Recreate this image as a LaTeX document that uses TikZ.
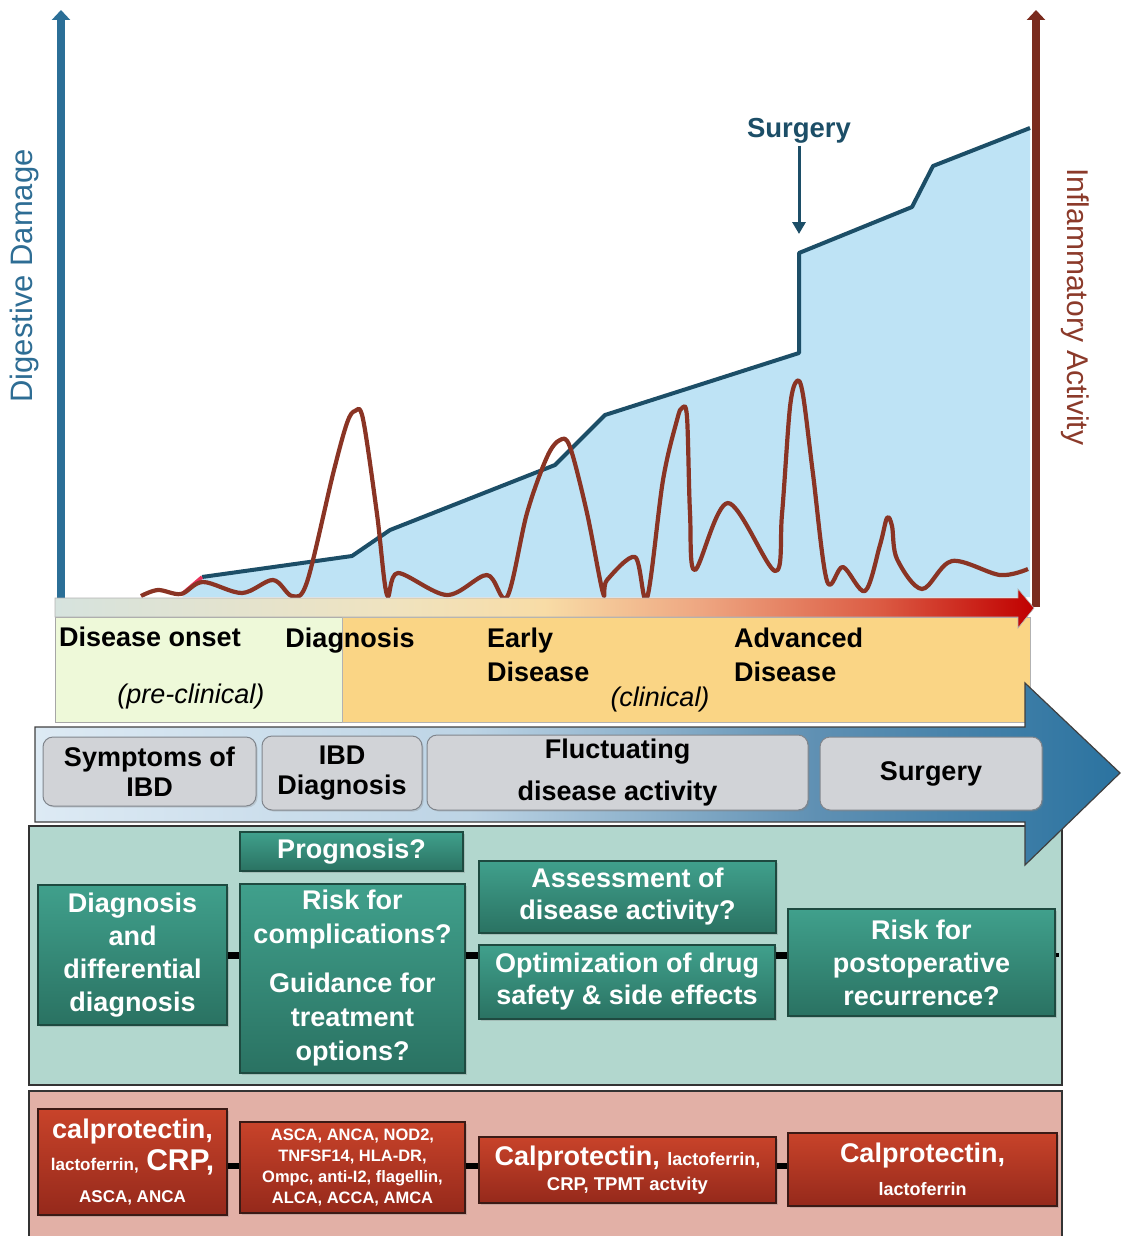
\documentclass[tikz,border=0pt]{standalone}
\usepackage{fontspec}
\setmainfont{Liberation Sans}
\usetikzlibrary{arrows.meta,shadows}
\definecolor{axisblue}{HTML}{2B6F97}
\definecolor{axisbrown}{HTML}{7A2B1E}
\definecolor{lblblue}{HTML}{2E6D94}
\definecolor{lblbrown}{HTML}{8B3A2A}
\definecolor{dmgfill}{HTML}{BEE3F5}
\definecolor{dmgline}{HTML}{1C4E67}
\definecolor{inflam}{HTML}{8A3424}
\definecolor{pinkseg}{HTML}{E8325A}
\definecolor{preclin}{HTML}{EEF9D9}
\definecolor{clin}{HTML}{FAD585}
\definecolor{tealpanel}{HTML}{B2D7CE}
\definecolor{redpanel}{HTML}{E2B0A6}
\definecolor{tealtop}{HTML}{40A08C}
\definecolor{tealbot}{HTML}{2A7262}
\definecolor{tealborder}{HTML}{1E4A40}
\definecolor{redtop}{HTML}{C8432A}
\definecolor{redbot}{HTML}{95291B}
\definecolor{redborder}{HTML}{3B1A15}
\definecolor{greyfill}{HTML}{D1D3D7}
\definecolor{greyborder}{HTML}{80858C}
\definecolor{tb1}{HTML}{D6E3DE}
\definecolor{tb2}{HTML}{EFE3C0}
\definecolor{tb3}{HTML}{F8DCA6}
\definecolor{tb4}{HTML}{EEA681}
\definecolor{tb5}{HTML}{DC5C44}
\definecolor{tb6}{HTML}{C00000}
\definecolor{ba1}{HTML}{DDEAF4}
\definecolor{ba2}{HTML}{BDD4E5}
\definecolor{ba3}{HTML}{5F90B3}
\definecolor{ba4}{HTML}{2B73A0}
\pgfdeclarehorizontalshading{timebar}{100bp}{color(0bp)=(tb1); color(25bp)=(tb1); color(42bp)=(tb2); color(50bp)=(tb3); color(58bp)=(tb4); color(67bp)=(tb5); color(75bp)=(tb6); color(100bp)=(tb6)}
\pgfdeclarehorizontalshading{bigarrow}{100bp}{color(0bp)=(ba1); color(25bp)=(ba1); color(45bp)=(ba2); color(61bp)=(ba3); color(75bp)=(ba4); color(100bp)=(ba4)}
\begin{document}
\begin{tikzpicture}[x=1pt,y=-1pt,
  bigtxt/.style={font=\bfseries\fontsize{27}{34}\selectfont},
  tealbox/.style={draw=tealborder, line width=1.2pt, top color=tealtop, bottom color=tealbot,
    text=white, font=\bfseries\fontsize{27}{33}\selectfont, align=center, inner sep=0pt,
    drop shadow={shadow xshift=2pt, shadow yshift=-2pt, opacity=0.3}},
  redbox/.style={draw=redborder, line width=1.2pt, top color=redtop, bottom color=redbot,
    text=white, font=\bfseries\fontsize{27}{32}\selectfont, align=center, inner sep=0pt,
    drop shadow={shadow xshift=2pt, shadow yshift=-2pt, opacity=0.3}},
  greybox/.style={draw=greyborder, line width=1pt, fill=greyfill, rounded corners=10pt,
    font=\bfseries\fontsize{27}{30}\selectfont, align=center, inner sep=0pt,
    drop shadow={shadow xshift=1.5pt, shadow yshift=-1.5pt, opacity=0.25}},
  tealconn/.style={line width=7pt, black},
  redconn/.style={line width=6pt, black},
  axisline/.style={line width=8pt, -{Triangle[width=18pt,length=10pt]}},
]
\useasboundingbox (0,0) rectangle (1128,1236);

% ---- damage area ----
\fill[dmgfill] (182,597) -- (202,577) -- (352,556) -- (390,530) -- (555,465) -- (605,415) -- (799,353) -- (799,253) -- (912,207) -- (933,166) -- (1030,128) -- (1030,597) -- cycle;
\draw[dmgline, line width=4pt, line join=round] (202,577) -- (352,556) -- (390,530) -- (555,465) -- (605,415) -- (799,353) -- (799,253) -- (912,207) -- (933,166) -- (1030,128);
\draw[pinkseg, line width=3.5pt] (182,594) -- (202,577);

% ---- inflammatory activity curve ----
\draw[inflam, line width=4.2pt, line join=round] plot[smooth, tension=0.55] coordinates {
 (141,596) (158,590) (181,594) (203,582) (242,593) (273,580) (292,596) (307,582)
 (333,474) (347,423) (355,411) (363,419) (377,514) (387,595)
 (398,573) (447,595) (487,575) (507,597)
 (527,513) (547,457) (560,440) (570,447) (587,513) (603,593)
 (607,580) (635,557) (647,598)
 (663,480) (677,420) (682,408) (687,417) (690,513) (695,570)
 (728,503) (775,571)
 (782,514) (790,407) (797,381) (803,395) (813,474) (827,581)
 (843,567) (865,591)
 (880,545) (887,518) (892,526) (897,559) (922,589)
 (952,561) (1000,575) (1028,569)};

% ---- axes ----
\coordinate (lbase) at (61,598);
\coordinate (ltop) at (61,10);
\coordinate (rbase) at (1036,607);
\coordinate (rtop) at (1036,10);
\draw[axisline, axisblue] (lbase) -- (ltop);
\draw[axisline, axisbrown] (rbase) -- (rtop);
\node[rotate=90, text=lblblue, font=\fontsize{31}{36}\selectfont] (ylab) at (24,276) {Digestive Damage};
\node[rotate=-90, text=lblbrown, font=\fontsize{30}{36}\selectfont] (rlab) at (1075,307) {Inflammatory Activity};

% ---- surgery marker ----
\node[text=dmgline, font=\bfseries\fontsize{27.5}{32}\selectfont, inner sep=2pt] (surg) at (799,131) {Surgery};
\coordinate (surgtip) at (799,234);
\draw[dmgline, line width=3pt, -{Triangle[width=13pt,length=12pt]}] (surg.south) -- (surgtip);

% ---- timeline stage boxes ----
\node[draw=gray!70, fill=preclin, line width=0.8pt, minimum width=287pt, minimum height=105pt, inner sep=0pt] (pre) at (198.5,669.5) {};
\node[draw=gray!60, fill=clin, line width=0.8pt, minimum width=688pt, minimum height=105pt, inner sep=0pt] (clinbox) at (686,669.5) {};

% ---- timeline gradient arrow ----
\path[shading=timebar, draw=gray!60, line width=0.6pt] (55,598) -- (1018,598) -- (1018,589) -- (1034,608) -- (1018,628) -- (1018,617) -- (55,617) -- cycle;

% ---- timeline texts ----
\node[bigtxt, anchor=west, inner sep=0pt] (onset) at (59,637) {Disease onset};
\node[bigtxt, anchor=base, inner sep=0pt] (diag) at (350,647) {Diagnosis};
\node[bigtxt, anchor=west, align=left, inner sep=0pt] (early) at (487,655) {Early\\Disease};
\node[bigtxt, anchor=west, align=left, inner sep=0pt] (adv) at (734,655) {Advanced\\Disease};
\node[font=\itshape\fontsize{27}{32}\selectfont, anchor=base, inner sep=0pt] (prelab) at (191,703) {(pre-clinical)};
\node[font=\itshape\fontsize{27}{32}\selectfont, anchor=base, inner sep=0pt] (clinlab) at (660,706) {(clinical)};

% ---- panels ----
\node[draw=black!80, line width=1.5pt, fill=tealpanel, minimum width=1033pt, minimum height=259pt, inner sep=0pt] (tpanel) at (545.5,955.5) {};
\node[draw=black!80, line width=1.5pt, fill=redpanel, minimum width=1033pt, minimum height=160pt, inner sep=0pt] (rpanel) at (545.5,1171) {};

% ---- big blue process arrow ----
\path[shading=bigarrow, draw=black!75, line width=1.2pt, line join=miter] (35,727) -- (1025,727) -- (1025,683) -- (1120,773) -- (1025,865) -- (1025,822) -- (35,822) -- cycle;

% ---- grey phase boxes ----
\node[greybox, minimum width=213pt, minimum height=69pt] (g1) at (149.5,771.5) {Symptoms of\\IBD};
\node[greybox, minimum width=160pt, minimum height=74pt] (g2) at (342,773) {IBD\\Diagnosis};
\node[greybox, minimum width=381pt, minimum height=75pt, font=\bfseries\fontsize{27}{42}\selectfont] (g3) at (617.5,772.5) {Fluctuating\\disease activity};
\node[greybox, minimum width=222pt, minimum height=73pt] (g4) at (931,773.5) {Surgery};

% ---- teal question boxes ----
\node[tealbox, minimum width=189pt, minimum height=140pt] (dd) at (132.5,955) {Diagnosis\\and\\differential\\diagnosis};
\node[tealbox, minimum width=223pt, minimum height=39pt] (prog) at (351.5,851.5) {Prognosis?};
\node[tealbox, minimum width=225pt, minimum height=189pt, font=\bfseries\fontsize{27}{34}\selectfont] (risk) at (352.5,978.5) {Risk for\\complications?\\[15pt]Guidance for\\treatment\\options?};
\node[tealbox, minimum width=297pt, minimum height=72pt, font=\bfseries\fontsize{27}{32}\selectfont] (assess) at (627.5,897) {Assessment of\\disease activity?};
\node[tealbox, minimum width=296pt, minimum height=74pt, font=\bfseries\fontsize{27}{32}\selectfont] (optim) at (627,982) {Optimization of drug\\safety \& side effects};
\node[tealbox, minimum width=267pt, minimum height=107pt] (postop) at (921.5,962.5) {Risk for\\postoperative\\recurrence?};
\coordinate (tstub) at (1059,955);
\draw[tealconn] (dd.east) -- (dd.east -| risk.west);
\draw[tealconn] (risk.east |- dd.east) -- (optim.west |- dd.east);
\draw[tealconn] (optim.east |- dd.east) -- (postop.west |- dd.east);
\draw[line width=4pt] (postop.east |- tstub) -- (tstub);

% ---- red biomarker boxes ----
\node[redbox, minimum width=189pt, minimum height=106pt] (r1) at (132.5,1162) {calprotectin,\\{\fontsize{17}{20}\selectfont lactoferrin,} {\fontsize{30}{32}\selectfont CRP,}\\{\fontsize{17}{20}\selectfont ASCA, ANCA}};
\node[redbox, minimum width=225pt, minimum height=91pt, font=\bfseries\fontsize{16.5}{20.7}\selectfont] (r2) at (352.5,1167.5) {ASCA, ANCA, NOD2,\\TNFSF14, HLA-DR,\\Ompc, anti-I2, flagellin,\\ALCA, ACCA, AMCA};
\node[redbox, minimum width=297pt, minimum height=66pt, font=\bfseries\fontsize{27}{25}\selectfont] (r3) at (627.5,1170) {Calprotectin, {\fontsize{18}{20}\selectfont lactoferrin,}\\{\fontsize{18.5}{20}\selectfont CRP, TPMT actvity}};
\node[redbox, minimum width=269pt, minimum height=73pt, font=\bfseries\fontsize{27}{33}\selectfont] (r4) at (922.5,1169.5) {Calprotectin,\\{\fontsize{18}{20}\selectfont lactoferrin}};
\coordinate (rc1) at (0,1166);
\draw[redconn] (r1.east |- rc1) -- (r2.west |- rc1);
\draw[redconn] (r2.east |- rc1) -- (r3.west |- rc1);
\draw[redconn] (r3.east |- rc1) -- (r4.west |- rc1);
\end{tikzpicture}
\end{document}
